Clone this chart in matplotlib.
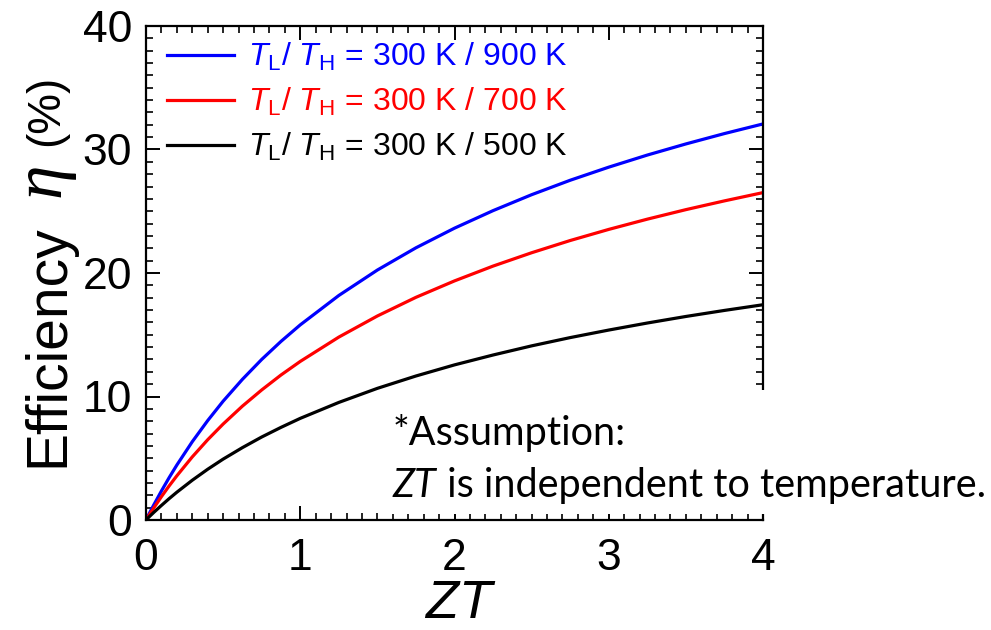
import matplotlib
matplotlib.use('Agg')
import matplotlib.pyplot as plt
from matplotlib.patches import Rectangle
from matplotlib.ticker import MultipleLocator

plt.rcParams['font.family'] = ['Liberation Sans', 'DejaVu Sans']
plt.rcParams['mathtext.fontset'] = 'custom'
plt.rcParams['mathtext.rm'] = 'Liberation Sans'
plt.rcParams['mathtext.it'] = 'Liberation Sans:italic'
plt.rcParams['mathtext.sf'] = 'Liberation Sans:italic'

# efficiency (%) vs ZT for three hot-side temperatures, T_L = 300 K
zt = [0, 0.025, 0.05, 0.1, 0.15, 0.2, 0.3, 0.4, 0.5, 0.625, 0.75, 0.875, 1.0,
      1.25, 1.5, 1.75, 2.0, 2.25, 2.5, 2.75, 3.0, 3.25, 3.5, 3.75, 4.0]
eta_900 = [0, 0.62, 1.21, 2.35, 3.43, 4.45, 6.34, 8.05, 9.62, 11.39, 13.00, 14.46, 15.80,
           18.18, 20.24, 22.04, 23.63, 25.05, 26.34, 27.51, 28.57, 29.55, 30.45, 31.29, 32.07]
eta_700 = [0, 0.49, 0.97, 1.89, 2.76, 3.58, 5.11, 6.50, 7.77, 9.22, 10.53, 11.74, 12.84,
           14.81, 16.52, 18.03, 19.36, 20.56, 21.64, 22.63, 23.53, 24.36, 25.13, 25.84, 26.51]
eta_500 = [0, 0.31, 0.61, 1.18, 1.73, 2.25, 3.22, 4.11, 4.93, 5.86, 6.72, 7.50, 8.23,
           9.52, 10.66, 11.66, 12.56, 13.36, 14.10, 14.77, 15.38, 15.95, 16.48, 16.97, 17.43]

labels = [r'$\mathsf{T}_\mathrm{L}$/ $\mathsf{T}_\mathrm{H}$ = 300 K / 900 K',
          r'$\mathsf{T}_\mathrm{L}$/ $\mathsf{T}_\mathrm{H}$ = 300 K / 700 K',
          r'$\mathsf{T}_\mathrm{L}$/ $\mathsf{T}_\mathrm{H}$ = 300 K / 500 K']
colors = ['#0000ff', '#ff0000', '#000000']

W, H = 991, 630
fig = plt.figure(figsize=(W / 100, H / 100), dpi=100)
ax = fig.add_axes([146 / W, 110 / H, 617 / W, 494 / H])

for y, lab, c in zip([eta_900, eta_700, eta_500], labels, colors):
    ax.plot(zt, y, color=c, lw=2.3, label=lab)

ax.set_xlim(0, 4)
ax.set_ylim(0, 40)
ax.xaxis.set_major_locator(MultipleLocator(1))
ax.xaxis.set_minor_locator(MultipleLocator(0.1))
ax.yaxis.set_major_locator(MultipleLocator(10))
ax.yaxis.set_minor_locator(MultipleLocator(1))
ax.tick_params(which='both', direction='in', top=True, right=True, labelsize=32)
ax.tick_params(which='major', length=10, width=1.4)
ax.tick_params(which='minor', length=5, width=1.2)
ax.tick_params(axis='x', pad=13)
ax.tick_params(axis='y', pad=10)
for s in ax.spines.values():
    s.set_linewidth(1.6)

ax.set_xlabel(r'$\mathsf{ZT}$', fontsize=39)
ax.xaxis.set_label_coords(0.509, -0.12)

# y label built from three pieces, rotated
fig.text(63 / W, (H - 467) / H, 'Efficiency', fontsize=41, rotation=90,
         rotation_mode='anchor', ha='left', va='baseline')
fig.text(60 / W, (H - 197) / H, '\u03b7', family='Liberation Serif', style='italic',
         fontsize=50, rotation=90, rotation_mode='anchor', ha='left', va='baseline')
fig.text(58 / W, (H - 146) / H, '(%)', fontsize=33, rotation=90,
         rotation_mode='anchor', ha='left', va='baseline')

leg = ax.legend(loc='upper left', bbox_to_anchor=(0.034, 0.969), frameon=False,
                fontsize=23, handlelength=2.1, handletextpad=0.45,
                labelspacing=0.4, borderpad=0, borderaxespad=0,
                labelcolor='linecolor')

# note in the lower right, on a white patch over the frame
fig.add_artist(Rectangle((385 / W, 116 / H), 606 / W, 124 / H,
                         transform=fig.transFigure, fc='white', ec='none', zorder=5))
fig.text(393 / W, (H - 445) / H, '*Assumption:', family='Lato', fontsize=28.5,
         va='baseline', zorder=6)
t_zt = fig.text(393 / W, (H - 497) / H, 'ZT', family='Lato', style='italic',
                fontsize=28.5, va='baseline', zorder=6)
fig.add_artist(plt.Annotation(' is independent to temperature.', xy=(1, 0),
                              xycoords=t_zt, va='bottom', family='Lato',
                              fontsize=28.5, zorder=6))

fig.savefig('out.png', dpi=100)
